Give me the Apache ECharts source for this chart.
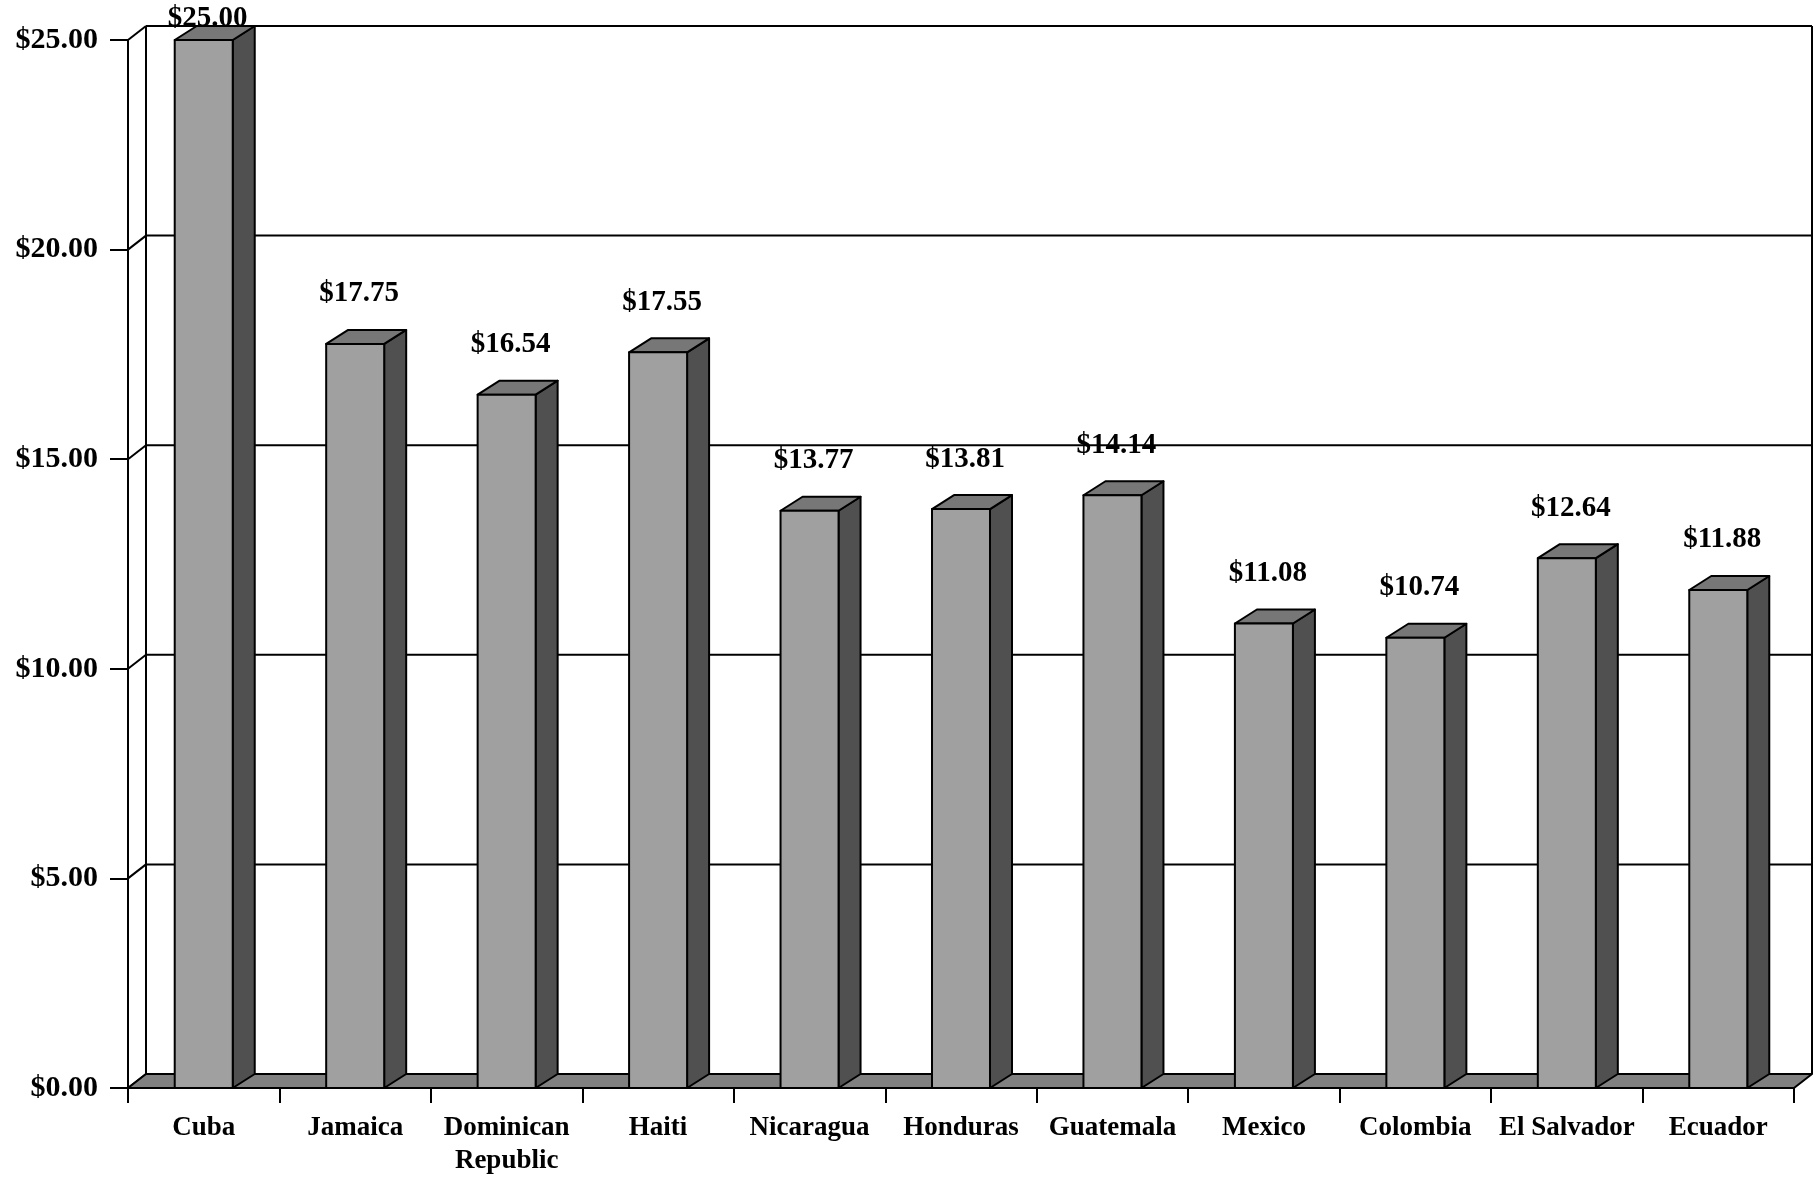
<!DOCTYPE html>
<html>
<head>
<meta charset="utf-8">
<script src="https://cdn.jsdelivr.net/npm/echarts@6/dist/echarts.min.js"></script>
<style>
html,body{margin:0;padding:0;background:#fff;}
#chart{width:1818px;height:1178px;}
</style>
</head>
<body>
<div id="chart"></div>
<script>
// ---- data ----
const categories = ['Cuba', 'Jamaica', 'Dominican\nRepublic', 'Haiti', 'Nicaragua', 'Honduras', 'Guatemala', 'Mexico', 'Colombia', 'El Salvador', 'Ecuador'];
const values = [25.00, 17.75, 16.54, 17.55, 13.77, 13.81, 14.14, 11.08, 10.74, 12.64, 11.88];
const yTicks = [0, 5, 10, 15, 20, 25];

// ---- style ----
const FONT = '"Liberation Serif", "Times New Roman", serif';
const WALL_DX = 18, WALL_DY = -14;   // depth offset of back wall
const BAR_DX = 22, BAR_DY = -14;     // depth offset of bars
const BAR_FRAC = 0.383;
const FACE = '#a0a0a0', SIDE = '#505050', TOP = '#777777', FLOOR = '#808080';
const LW = 2;

const chart = echarts.init(document.getElementById('chart'), null, {renderer: 'canvas'});

function wallLines(params, api) {
  const v = api.value(0);
  const cs = params.coordSys;
  const p = api.coord([0, v]);
  const y = p[1];
  const x0 = cs.x, x1 = cs.x + cs.width;
  return {
    type: 'group',
    children: [
      {type: 'line', shape: {x1: x0 + WALL_DX, y1: y + WALL_DY, x2: x1 + WALL_DX, y2: y + WALL_DY},
       style: {stroke: '#000', lineWidth: LW}},
      {type: 'line', shape: {x1: x0, y1: y, x2: x0 + WALL_DX, y2: y + WALL_DY},
       style: {stroke: '#000', lineWidth: LW}}
    ]
  };
}

function floorAndFrame(params, api) {
  const cs = params.coordSys;
  const y0 = api.coord([0, 0])[1];
  const yTop = api.coord([0, yTicks[yTicks.length - 1]])[1];
  const x0 = cs.x, x1 = cs.x + cs.width;
  return {
    type: 'group',
    children: [
      {type: 'line', shape: {x1: x0 + WALL_DX, y1: y0 + WALL_DY, x2: x0 + WALL_DX, y2: yTop + WALL_DY},
       style: {stroke: '#000', lineWidth: LW}},
      {type: 'line', shape: {x1: x1 + WALL_DX, y1: y0 + WALL_DY, x2: x1 + WALL_DX, y2: yTop + WALL_DY},
       style: {stroke: '#000', lineWidth: LW}},
      {type: 'polygon', shape: {points: [[x0, y0], [x1, y0], [x1 + WALL_DX, y0 + WALL_DY], [x0 + WALL_DX, y0 + WALL_DY]]},
       style: {fill: FLOOR, stroke: '#000', lineWidth: LW, lineJoin: 'round'}}
    ]
  };
}

function bar3d(params, api) {
  const idx = api.value(0);
  const val = api.value(1);
  const top = api.coord([idx, val]);
  const base = api.coord([idx, 0]);
  const bw = api.size([1, 0])[0] * BAR_FRAC;
  const xl = top[0] - bw / 2, xr = top[0] + bw / 2;
  const yt = top[1], yb = base[1];
  const st = {stroke: '#000', lineWidth: LW, lineJoin: 'round'};
  const labelY = Math.max(yt - 50, 19);
  return {
    type: 'group',
    children: [
      {type: 'polygon', shape: {points: [[xr, yb], [xr + BAR_DX, yb + BAR_DY], [xr + BAR_DX, yt + BAR_DY], [xr, yt]]},
       style: Object.assign({fill: SIDE}, st)},
      {type: 'polygon', shape: {points: [[xl, yt], [xr, yt], [xr + BAR_DX, yt + BAR_DY], [xl + BAR_DX, yt + BAR_DY]]},
       style: Object.assign({fill: TOP}, st)},
      {type: 'rect', shape: {x: xl, y: yt, width: bw, height: yb - yt},
       style: Object.assign({fill: FACE}, st)},
      {type: 'text', z2: 100, style: {text: '$' + val.toFixed(2), x: top[0] + 4, y: labelY,
        align: 'center', verticalAlign: 'middle', fill: '#000',
        font: 'bold 29px ' + FONT}}
    ]
  };
}

const option = {
  animation: false,
  backgroundColor: '#fff',
  grid: {left: 128, right: 24, top: 40, bottom: 90, containLabel: false},
  xAxis: {
    type: 'category',
    data: categories,
    boundaryGap: true,
    axisLine: {show: true, lineStyle: {color: '#000', width: LW}},
    axisTick: {show: true, length: 15, lineStyle: {color: '#000', width: LW}},
    axisLabel: {color: '#000', fontFamily: FONT, fontWeight: 'bold', fontSize: 27,
                lineHeight: 33, margin: 24, interval: 0},
    splitLine: {show: false}
  },
  yAxis: {
    type: 'value',
    min: 0, max: 25, interval: 5,
    axisLine: {show: true, lineStyle: {color: '#000', width: LW}},
    axisTick: {show: true, length: 18, lineStyle: {color: '#000', width: LW}},
    axisLabel: {color: '#000', fontFamily: FONT, fontWeight: 'bold', fontSize: 30, margin: 30,
                formatter: v => '$' + v.toFixed(2)},
    splitLine: {show: false}
  },
  series: [
    {type: 'custom', name: 'walls', clip: false, z: 1,
     data: yTicks.map(v => [v]), encode: {y: 0}, renderItem: wallLines, silent: true},
    {type: 'custom', name: 'floor', clip: false, z: 2,
     data: [[0]], encode: {y: 0}, renderItem: floorAndFrame, silent: true},
    {type: 'custom', name: 'bars', clip: false, z: 3,
     data: values.map((v, i) => [i, v]), encode: {x: 0, y: 1}, renderItem: bar3d}
  ]
};
chart.setOption(option);
</script>
</body>
</html>
